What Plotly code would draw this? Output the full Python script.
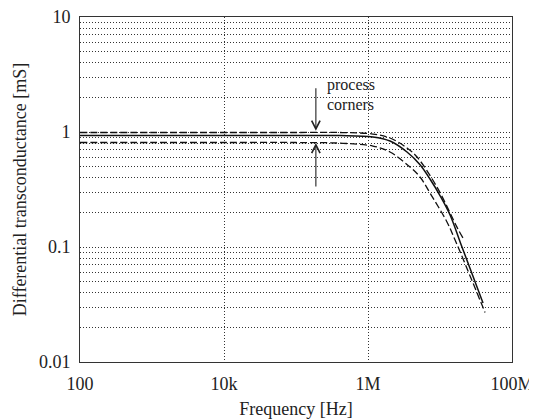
import plotly.graph_objects as go

# Frequency [Hz] and differential transconductance [mS]
nominal_f = [100, 1e3, 1e4, 1e5, 4.08e5, 1.17e6, 2.02e6, 3.48e6, 5.28e6, 7.26e6, 1.0e7, 1.38e7, 2.02e7, 3.96e7]
nominal_g = [0.93, 0.93, 0.93, 0.93, 0.93, 0.905, 0.835, 0.67, 0.52, 0.39, 0.28, 0.19, 0.10, 0.0326]

upper_f = [100, 1e3, 1e4, 1e5, 4.08e5, 1.17e6, 2.02e6, 3.48e6, 4.8e6, 9.08e6, 1.72e7, 2.08e7]
upper_g = [0.99, 0.99, 0.99, 0.99, 0.99, 0.96, 0.887, 0.726, 0.606, 0.332, 0.149, 0.12]

lower_f = [100, 1e3, 1e4, 1e5, 4.08e5, 1.17e6, 2.02e6, 3.83e6, 5.28e6, 7.26e6, 1.25e7, 1.62e7, 4.22e7]
lower_g = [0.81, 0.81, 0.81, 0.81, 0.80, 0.755, 0.67, 0.496, 0.406, 0.295, 0.165, 0.115, 0.027]

x_tickvals = [100, 1e4, 1e6, 1e8]
x_ticktext = ["100", "10k", "1M", "100M"]
y_tickvals = [0.01, 0.1, 1, 10]
y_ticktext = ["0.01", "0.1", "1", "10"]
y_minor = [m * d for d in (0.01, 0.1, 1) for m in range(2, 10)]

FONT = "Liberation Serif"
TXT = "#222222"
DOT = "1px,2px"

fig = go.Figure()
fig.add_trace(go.Scatter(x=upper_f, y=upper_g, mode="lines", line_shape="spline",
                         line=dict(color="#111", width=1.3, dash="7px,3px"), showlegend=False))
fig.add_trace(go.Scatter(x=lower_f, y=lower_g, mode="lines", line_shape="spline",
                         line=dict(color="#111", width=1.3, dash="7px,3px"), showlegend=False))
fig.add_trace(go.Scatter(x=nominal_f, y=nominal_g, mode="lines", line_shape="spline",
                         line=dict(color="#111", width=1.5), showlegend=False))

# page body has an 8px margin, so the figure is sized to fit the window
fig.update_layout(
    width=529, height=412,
    margin=dict(l=72, r=25, t=9, b=58),
    paper_bgcolor="white", plot_bgcolor="white",
    font=dict(family=FONT, size=18, color=TXT),
    xaxis=dict(
        type="log", range=[2, 8], automargin=False, ticklabeloverflow="allow",
        tickmode="array", tickvals=x_tickvals, ticktext=x_ticktext,
        ticks="", showgrid=True, gridcolor="#333", gridwidth=1, griddash=DOT,
        showline=True, linecolor="#333", linewidth=1, mirror=True,
        ticklabelstandoff=5,
        title=dict(text="Frequency [Hz]", standoff=9, font=dict(size=18)),
    ),
    yaxis=dict(
        type="log", range=[-2, 1], automargin=False, ticklabeloverflow="allow",
        tickmode="array", tickvals=y_tickvals, ticktext=y_ticktext,
        ticks="", showgrid=True, gridcolor="#333", gridwidth=1, griddash=DOT,
        minor=dict(tickmode="array", tickvals=y_minor, showgrid=True,
                   gridcolor="#333", gridwidth=1, griddash=DOT, ticks=""),
        showline=True, linecolor="#333", linewidth=1, mirror=True,
        ticklabelstandoff=5,
        title=dict(text="Differential transconductance [mS]", standoff=7, font=dict(size=18)),
    ),
)

# process corner arrows and label
fig.add_annotation(xref="paper", yref="paper", x=0.546, y=0.670, ax=0, ay=-44,
                   showarrow=True, arrowhead=5, arrowsize=1.5, arrowwidth=1.1,
                   arrowcolor="#222", text="")
fig.add_annotation(xref="paper", yref="paper", x=0.546, y=0.635, ax=0, ay=45,
                   showarrow=True, arrowhead=5, arrowsize=1.5, arrowwidth=1.1,
                   arrowcolor="#222", text="")
fig.add_annotation(xref="paper", yref="paper", x=0.567, y=0.803, xanchor="left", yanchor="middle",
                   showarrow=False, text="process", font=dict(family=FONT, size=16, color=TXT))
fig.add_annotation(xref="paper", yref="paper", x=0.567, y=0.745, xanchor="left", yanchor="middle",
                   showarrow=False, text="corners", font=dict(family=FONT, size=16, color=TXT))

fig.write_html("out.html")
